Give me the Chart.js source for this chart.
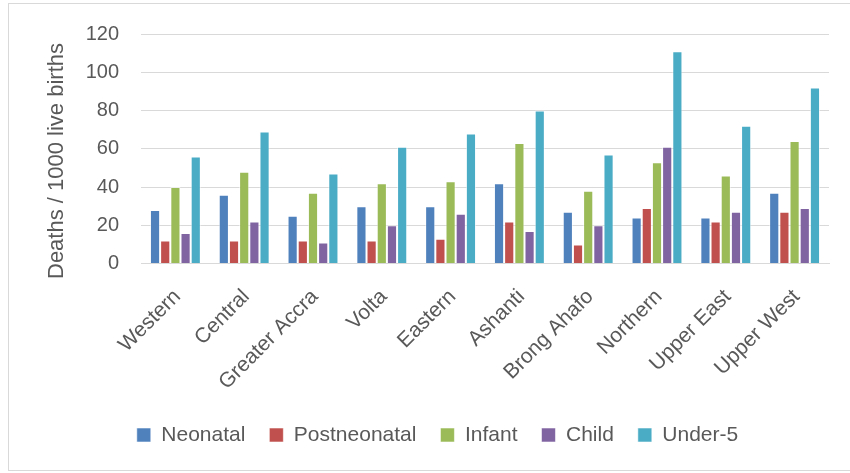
<!DOCTYPE html>
<html>
<head>
<meta charset="utf-8">
<script src="https://cdn.jsdelivr.net/npm/chart.js@4/dist/chart.umd.min.js"></script>
<style>
  html, body { margin: 0; padding: 0; background: #ffffff; }
  #wrap { position: relative; width: 850px; height: 473px; overflow: hidden; }
  #frame { position: absolute; left: 8px; top: 3px; width: 860px; height: 468px; border: 1px solid #d9d9d9; box-sizing: border-box; }
  canvas { position: absolute; left: 0; top: 0; }
</style>
</head>
<body>
<div id="wrap">
  <div id="frame"></div>
  <canvas id="c" width="850" height="473"></canvas>
</div>
<script>
// Regions of Ghana
const regions = ['Western', 'Central', 'Greater Accra', 'Volta', 'Eastern',
                 'Ashanti', 'Brong Ahafo', 'Northern', 'Upper East', 'Upper West'];

// Mortality rates, deaths per 1000 live births
const neonatal     = [28, 36, 25, 30, 30, 42, 27, 24, 24, 37];
const postneonatal = [12, 12, 12, 12, 13, 22, 10, 29, 22, 27];
const infant       = [40, 48, 37, 42, 43, 63, 38, 53, 46, 64];
const child        = [16, 22, 11, 20, 26, 17, 20, 61, 27, 29];
const under5       = [56, 69, 47, 61, 68, 80, 57, 111, 72, 92];

const yTicks = [0, 20, 40, 60, 80, 100, 120];
const yTitle = 'Deaths / 1000 live births';

const FONT = "'Liberation Sans', Arial, sans-serif";
const TEXT = '#595959';
const GRID = '#d9d9d9';

const PLOT_BOTTOM = 263.5;   // baseline of the value axis
const LEGEND_MID = 435;      // vertical centre of the legend row

function series(label, data, color) {
  return {
    label: label,
    data: data,
    backgroundColor: color,
    borderColor: 'rgba(255,255,255,0.55)',
    borderWidth: 1,
    barPercentage: 1.0,
    categoryPercentage: 0.74
  };
}

// Places the legend row and draws the vertical axis title centred on the frame
const layoutHelper = {
  id: 'layoutHelper',
  afterLayout(chart) {
    const lg = chart.legend;
    if (!lg) return;
    const pad = lg.options.labels.padding;
    const h = lg.options.labels.font.size;
    const shift = (LEGEND_MID - pad - h / 2) - lg.top;
    lg.top += shift;
    lg.bottom += shift;
  },
  afterDraw(chart) {
    const ctx = chart.ctx;
    ctx.save();
    ctx.translate(57, 161);
    ctx.rotate(-Math.PI / 2);
    ctx.fillStyle = TEXT;
    ctx.font = '22px ' + FONT;
    ctx.textAlign = 'center';
    ctx.textBaseline = 'middle';
    ctx.fillText(yTitle, 0, 0);
    ctx.restore();
  }
};

new Chart(document.getElementById('c'), {
  type: 'bar',
  data: {
    labels: regions,
    datasets: [
      series('Neonatal', neonatal, '#4F81BD'),
      series('Postneonatal', postneonatal, '#C0504D'),
      series('Infant', infant, '#9BBB59'),
      series('Child', child, '#8064A2'),
      series('Under-5', under5, '#4BACC6')
    ]
  },
  plugins: [layoutHelper],
  options: {
    responsive: false,
    animation: false,
    devicePixelRatio: 1,
    layout: { padding: { left: 46, right: 21, top: 33, bottom: 0 } },
    plugins: {
      tooltip: { enabled: false },
      legend: {
        position: 'bottom',
        labels: {
          boxWidth: 14,
          boxHeight: 14,
          padding: 24,
          color: TEXT,
          font: { family: FONT, size: 21 }
        }
      }
    },
    scales: {
      x: {
        grid: { display: false, drawTicks: false },
        border: { display: true, color: GRID, width: 1 },
        ticks: {
          color: TEXT,
          font: { family: FONT, size: 21 },
          maxRotation: 45,
          minRotation: 45,
          padding: 21,
          labelOffset: 2,
          autoSkip: false
        },
        afterFit: function (scale) {
          const lgH = scale.chart.legend ? scale.chart.legend.height : 0;
          scale.height = scale.chart.height - lgH - PLOT_BOTTOM;
        }
      },
      y: {
        min: 0,
        max: 120,
        afterBuildTicks: function (scale) {
          scale.ticks = yTicks.map(function (v) { return { value: v }; });
        },
        grid: { color: GRID, lineWidth: 1, drawTicks: false },
        border: { display: false },
        ticks: {
          color: TEXT,
          font: { family: FONT, size: 20 },
          padding: 22
        },
        title: { display: false },
        afterFit: function (scale) { scale.width = 95; }
      }
    }
  }
});
</script>
</body>
</html>
